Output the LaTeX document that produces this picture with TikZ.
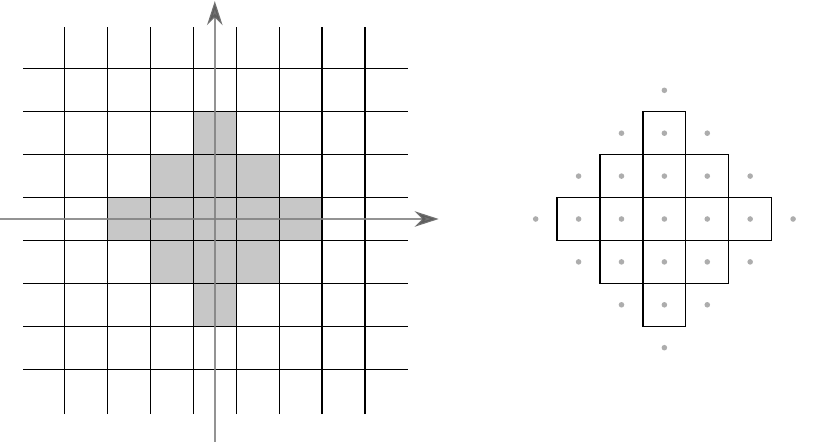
\documentclass[tikz,border=0pt]{standalone}
\usetikzlibrary{arrows.meta}

\tikzstyle{gridline}=[black,line width=0.85pt]
\tikzstyle{cell}=[fill=black!22]
\tikzstyle{axis}=[black!50,opacity=0.85,line width=1.6pt,-{Stealth[length=5.6mm,width=3.6mm,inset=1.8mm,black!65]}]
\tikzstyle{box}=[draw=black,line width=0.85pt]
\tikzstyle{dot}=[fill=black!32]

\begin{document}
\begin{tikzpicture}
		\useasboundingbox (-5.007,-5.175) rectangle (14.061,5.105);
		% shaded cells
		\foreach \x in {-2,...,2}{
			\pgfmathtruncatemacro\r{2-abs(\x)}
			\fill[cell] (\x-0.5,-\r-0.5) rectangle (\x+0.5,\r+0.5);
		}
		% grid
		\foreach \i in {-3.5,-2.5,...,3.5}{
			\draw[gridline] (\i,-4.55) -- (\i,4.47);
			\draw[gridline] (-4.46,\i) -- (4.5,\i);
		}
		% axes
		\coordinate (xstart) at (-5.1,0);
		\coordinate (xend) at (5.22,0);
		\coordinate (ystart) at (0,-5.25);
		\coordinate (yend) at (0,5.08);
		\draw[axis] (xstart) -- (xend);
		\draw[axis] (ystart) -- (yend);
		% right: cells and sample points
		\begin{scope}[xshift=10.48cm]
			\foreach \x in {-2,...,2}{
				\foreach \y in {-2,...,2}{
					\pgfmathtruncatemacro\d{abs(\x)+abs(\y)}
					\ifnum\d<3 \draw[box] (\x-0.5,\y-0.5) rectangle (\x+0.5,\y+0.5); \fi
				}
			}
			\foreach \x in {-3,...,3}{
				\foreach \y in {-3,...,3}{
					\pgfmathtruncatemacro\d{abs(\x)+abs(\y)}
					\ifnum\d<4 \fill[dot] (\x,\y) circle (0.065); \fi
				}
			}
		\end{scope}
	\end{tikzpicture}
\end{document}
